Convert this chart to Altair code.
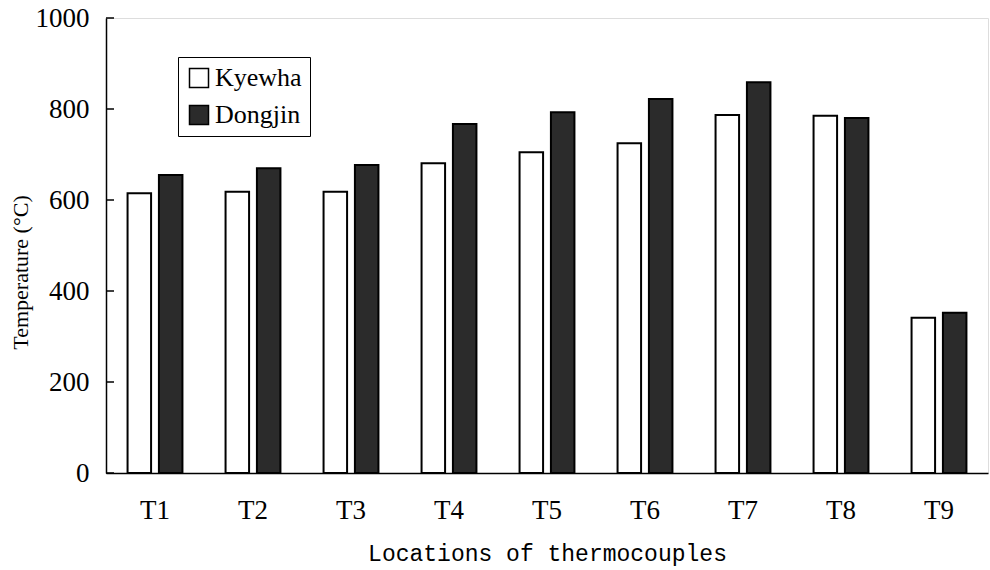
import altair as alt
import pandas as pd

locations = ["T1", "T2", "T3", "T4", "T5", "T6", "T7", "T8", "T9"]
kyewha = [615, 618, 618, 681, 705, 725, 787, 785, 341]
dongjin = [655, 670, 677, 767, 793, 822, 859, 780, 352]
series = ["Kyewha", "Dongjin"]
y_ticks = [0, 200, 400, 600, 800, 1000]

rows = []
for loc, k, d in zip(locations, kyewha, dongjin):
    rows.append({"loc": loc, "series": series[0], "temp": k})
    rows.append({"loc": loc, "series": series[1], "temp": d})
df = pd.DataFrame(rows)
ticks_df = pd.DataFrame({"v": y_ticks})

SERIF = "Liberation Serif"

yscale = alt.Scale(domain=[0, 1000], nice=False)
yaxis = alt.Axis(title="Temperature (°C)", values=y_ticks,
                 format="d",
                 ticks=False, grid=False, labelPadding=17,
                 labelFont=SERIF, labelFontSize=27,
                 labelColor="black", labelFlush=False,
                 domainColor="black", domainWidth=1.5,
                 titleFont=SERIF, titleFontSize=22,
                 titleFontWeight="normal", titleColor="black",
                 titleBaseline="middle", titleX=-86, titleY=254)

bars = alt.Chart(df).mark_bar(stroke="black", strokeWidth=2).encode(
    x=alt.X("loc:N", sort=locations,
            scale=alt.Scale(paddingInner=0.44, paddingOuter=0.22),
            axis=alt.Axis(title="Locations of thermocouples", labelAngle=0,
                          ticks=False, labelPadding=24, labelFont=SERIF,
                          labelFontSize=27, labelColor="black",
                          domainColor="black", domainWidth=1.5,
                          titleFont="Liberation Mono", titleFontSize=23,
                          titleFontWeight="normal", titleColor="black",
                          titleBaseline="middle", titleY=80)),
    xOffset=alt.XOffset("series:N", sort=series,
                        scale=alt.Scale(paddingInner=0.25, paddingOuter=0)),
    y=alt.Y("temp:Q", scale=yscale, axis=yaxis),
    fill=alt.Fill("series:N", sort=series,
                  scale=alt.Scale(domain=series, range=["white", "#2b2b2b"]),
                  legend=alt.Legend(title=None, orient="none", legendX=72,
                                    legendY=39, strokeColor="black",
                                    padding=8, symbolType="square",
                                    symbolSize=361, symbolStrokeColor="black",
                                    symbolStrokeWidth=1.5, symbolOpacity=1,
                                    labelFont=SERIF, labelFontSize=26,
                                    labelColor="black", labelOffset=3,
                                    rowPadding=11)),
)

tick_rules = alt.Chart(ticks_df).mark_rule(color="black", strokeWidth=1.5).encode(
    y=alt.Y("v:Q", scale=yscale, axis=yaxis),
    x=alt.value(0),
    x2=alt.value(8),
)

chart = alt.layer(bars, tick_rules).properties(
    width=882, height=455,
    autosize=alt.AutoSizeParams(type="none"),
    padding={"left": 106, "top": 18, "right": 2, "bottom": 97},
).configure_view(stroke=None).configure(
    background="white", font=SERIF
).configure_axis(labelFont=SERIF)

chart.save("out.html", embed_options={"renderer": "svg", "actions": False})
